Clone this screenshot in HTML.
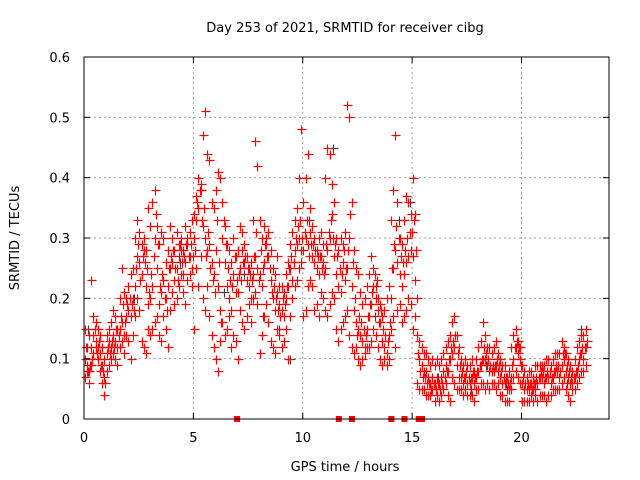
<!DOCTYPE html>
<html><head><meta charset="utf-8"><style>
html,body{margin:0;padding:0;background:#fff}
svg{display:block;font-family:"DejaVu Sans","Liberation Sans",sans-serif}
</style></head><body>
<svg id="chart" width="640" height="480">
<text x="345" y="32" font-size="13" text-anchor="middle" fill="#000">Day 253 of 2021, SRMTID for receiver cibg</text>
<text x="19" y="238" font-size="13" text-anchor="middle" transform="rotate(-90 19 238)">SRMTID / TECUs</text>
<text x="345" y="471" font-size="13" text-anchor="middle">GPS time / hours</text>
<g id="grid"></g><g id="gray"></g><g id="red"></g><g id="axes"></g>
</svg>
<script>
const xTicks=[0,5,10,15,20];
const yTicks=[0,0.1,0.2,0.3,0.4,0.5,0.6];
const yTickLabels=["0","0.1","0.2","0.3","0.4","0.5","0.6"];
const tStart=0, tStep=0.1;
const valsMid=[10,9,8,12,14,13,12,11,9,7, 11,13,12,14,13,12,15,16,14,17, 18,17,20,22,27,26,24,28,22,19, 20,22,30,25,19,21,23,20,22,25, 26,23,25,27,28,24,26,29,27,25, 30,33,35,38,32,30,28,29,26,24, 28,22,18,30,26,22,20,18,24,21, 21,25,28,26,23,22,20,24,27,25, 24,22,26,29,27,23,20,18,21,19, 18,17,20,22,25,23,28,29,30,28, 28,30,29,31,27,26,25,24,27,26, 25,28,30,34,27,24,22,21,26,23, 25,30,22,18,16,15,14,13,12,15, 17,19,22,20,18,16,13,12,11,14, 20,25,28,26,24,22,24,26,27,28, 27,23,14,10,9,8,8,7,6,7, 6,7,6,7,8,9,8,10,11,12, 9,7,7,6,7,6,6,7,6,7, 8,9,10,10,9,8,8,8,9,8, 7,6,6,5,5,7,10,12,11,10, 6,5,5,5,6,5,6,6,7,7, 6,7,7,6,7,8,8,7,9,10, 8,7,6,6,7,8,10,11,10,12];
const valsHigh=[15,12,14,23,17,16,15,14,12,10, 14,15,16,18,17,15,20,25,21,20, 22,24,25,30,33,31,29,30,28,35, 32,36,38,32,29,31,30,26,28,32, 30,28,31,29,30,28,32,30,31,33, 34,37,40,39,47,51,44,43,36,35, 38,41,40,36,32,29,28,26,30,27, 28,32,31,29,27,25,26,33,46,42, 33,30,32,30,31,28,25,24,27,22, 22,21,24,26,29,31,33,35,40,48, 36,40,44,35,32,30,28,30,31,29, 40,45,44,39,36,30,28,30,29,31, 52,50,36,28,25,24,21,19,20,22, 24,27,25,22,20,19,17,18,20,22, 33,38,47,36,30,29,33,37,36,34, 40,34,20,13,12,11,11,10,9,10, 9,10,9,10,11,12,13,14,16,17, 14,12,10,9,10,9,9,10,8,10, 12,13,16,14,12,12,11,12,13,11, 10,9,9,7,8,12,14,15,13,12, 9,8,7,8,8,7,9,9,9,9, 9,10,10,9,10,11,11,11,13,12, 11,10,9,8,10,12,13,14,14,15];
const valsLow=[7,8,6,9,11,12,10,8,6,4, 8,9,10,11,10,9,12,13,11,14, 13,10,14,17,20,18,13,12,11,15, 14,15,16,17,14,13,17,15,12,18, 21,19,20,22,24,21,19,23,24,22, 15,25,22,27,20,18,22,17,14,12, 10,8,13,16,14,15,17,12,14,13, 10,18,16,15,17,19,16,20,21,19, 11,14,17,19,16,13,12,11,15,14, 12,13,15,10,17,20,22,23,25,26, 17,18,22,23,22,18,19,17,21,20, 18,17,19,21,20,15,13,15,16,17, 18,14,12,11,12,10,9,10,11,12, 12,13,15,14,12,10,9,10,9,10, 15,17,12,18,19,16,17,18,20,19, 15,17,6,5,5,5,4,4,4,5, 3,4,3,4,5,6,4,3,7,6, 5,5,5,4,5,4,4,4,3,5, 5,6,6,5,6,5,6,6,5,6, 4,4,3,3,3,5,7,8,7,6, 3,3,3,3,4,3,4,3,4,4, 4,3,4,4,5,5,5,5,6,7, 5,4,3,5,5,6,7,8,8,9];
const valsExtra=[12,8,9,10,15,11,13,9,8,6, 12,11,13,12,15,14,17,19,16,19, 20,19,18,25,29,23,27,26,25,21, 24,27,34,29,22,24,20,18,25,27, 28,25,23,29,26,27,29,27,29,27, 28,36,38,33,35,27,31,25,23,21, 33,26,16,33,29,25,23,22,27,23, 24,23,26,27,25,24,23,27,31,23, 28,25,29,27,25,21,22,20,18,17, 20,19,22,25,27,26,30,32,33,30, 31,33,27,29,29,28,27,27,25,24, 29,31,33,30,29,27,25,24,28,25, 28,34,26,20,14,17,16,15,14,17, 19,21,24,23,16,18,15,14,13,16, 25,29,32,30,27,26,28,30,31,31, 33,28,11,8,7,7,6,6,5,6, 5,6,5,6,7,8,10,12,13,14, 11,9,8,7,8,7,7,8,7,8, 9,10,12,11,10,9,9,9,10,9, 8,7,7,6,6,9,12,13,12,9, 7,6,6,6,5,6,7,7,8,8, 7,8,8,7,8,9,9,8,11,11, 9,8,7,7,8,9,11,12,12,13];
const grayT=[0.2,1.1,2.3,3.6,4.4,5.6,6.4,7.3,8.2,8.9,9.4,10.3,11.4,12.6,13.3,14.4,14.9,16.2,17.7,18.4,19.3,20.6,21.4,22.1,22.7];
const grayV=[0.15,0.12,0.20,0.23,0.26,0.28,0.21,0.24,0.17,0.15,0.10,0.33,0.45,0.14,0.17,0.33,0.36,0.07,0.05,0.09,0.06,0.05,0.07,0.06,0.15];
const zeroT=[7.0,11.65,12.25,14.05,14.65,15.3,15.45];

const L=84,R=609,T=57,B=419;
const X=t=>L+(t-0)/24*(R-L);
const Y=v=>B-v/0.6*(B-T);
const NS="http://www.w3.org/2000/svg";
function mk(tag,parent,attrs){const e=document.createElementNS(NS,tag);for(const k in attrs)e.setAttribute(k,attrs[k]);parent.appendChild(e);return e;}
const grid=document.getElementById('grid'),axes=document.getElementById('axes');
xTicks.forEach(t=>{
  if(t>0){const g=mk('line',grid,{x1:X(t),x2:X(t),y1:T,y2:B,stroke:'#a0a0a0','stroke-dasharray':'2,3'});
  
  }
  mk('line',axes,{x1:X(t),x2:X(t),y1:B,y2:B-6,stroke:'#000'});
  mk('line',axes,{x1:X(t),x2:X(t),y1:T,y2:T+6,stroke:'#000'});
  const lb=mk('text',axes,{x:X(t),y:B+23,'font-size':13,'text-anchor':'middle'});lb.textContent=t;
  
  
});
yTicks.forEach((v,i)=>{
  if(v>0&&v<0.6){const g=mk('line',grid,{x1:L,x2:R,y1:Y(v),y2:Y(v),stroke:'#a0a0a0','stroke-dasharray':'2,3'});
  
  }
  mk('line',axes,{x1:L,x2:L+6,y1:Y(v),y2:Y(v),stroke:'#000'});
  mk('line',axes,{x1:R,x2:R-6,y1:Y(v),y2:Y(v),stroke:'#000'});
  const lb=mk('text',axes,{x:L-14,y:Y(v)+5,'font-size':13,'text-anchor':'end'});lb.textContent=yTickLabels[i];
  
  
});
const frame=mk('rect',axes,{x:L,y:T,width:R-L,height:B-T,fill:'none',stroke:'#000'});


function cross(parent,t,v,col){
  const x=Math.round(X(t))+0.5,y=Math.round(Y(v))+0.5;
  const p=mk('path',parent,{d:`M${x-4} ${y}H${x+5}M${x} ${y-4}V${y+5}`,stroke:col,'stroke-width':1.2,fill:'none'});
  
  
}
const gray=document.getElementById('gray'),red=document.getElementById('red');
grayT.forEach((t,i)=>cross(gray,t,grayV[i],'#404040'));
[valsMid,valsHigh,valsLow].forEach(arr=>arr.forEach((v,i)=>cross(red,tStart+i*tStep+0.03,v/100,'#ff0000')));
valsExtra.forEach((v,i)=>cross(red,tStart+i*tStep+0.08,v/100,'#ff0000'));
zeroT.forEach(t=>{const r=mk('rect',red,{x:X(t)-3,y:B-3,width:6,height:6,fill:'#ff0000'});
  
  });
</script>
</body></html>
